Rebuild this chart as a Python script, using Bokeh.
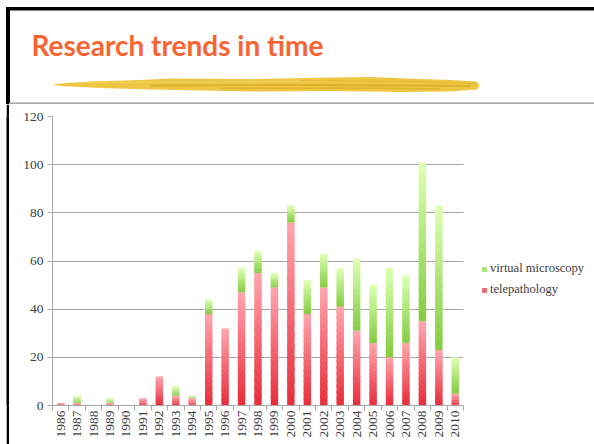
from math import pi
from bokeh.plotting import figure
from bokeh.models import (Range1d, FixedTicker, LinearAxis, Legend, LegendItem,
                          ColumnDataSource, Label, Spacer)
from bokeh.layouts import column, row
from bokeh.embed import file_html
from bokeh.resources import INLINE

# ---------------- data ----------------
years = ["1986", "1987", "1988", "1989", "1990", "1991", "1992", "1993", "1994",
         "1995", "1996", "1997", "1998", "1999", "2000", "2001", "2002", "2003",
         "2004", "2005", "2006", "2007", "2008", "2009", "2010"]
telepathology = [1, 1, 0, 1, 0, 3, 12, 4, 3, 38, 32, 47, 55, 49, 76, 38, 49, 41,
                 31, 26, 20, 26, 35, 23, 5]
virtual_microscopy = [0, 3, 0, 2, 0, 0, 0, 4, 1, 6, 0, 10, 9, 6, 7, 14, 14, 16,
                      30, 24, 37, 28, 66, 60, 15]
y_ticks = [0, 20, 40, 60, 80, 100, 120]
title_text = "Research trends in time"

SERIF = "Liberation Serif"
GRID = "#a8a8a8"
N_BANDS = 16


def lerp_color(c1, c2, t):
    a = [int(c1[i:i + 2], 16) for i in (1, 3, 5)]
    b = [int(c2[i:i + 2], 16) for i in (1, 3, 5)]
    return "#%02x%02x%02x" % tuple(int(round(a[k] + (b[k] - a[k]) * t)) for k in range(3))


def gradient_bands(bottoms, tops, c_bottom, c_top, n=N_BANDS):
    xs, bs, ts, cs = [], [], [], []
    for i, (b, t) in enumerate(zip(bottoms, tops)):
        if t <= b:
            continue
        h = (t - b) / n
        for k in range(n):
            xs.append(i)
            bs.append(b + h * k)
            ts.append(min(t, b + h * (k + 1.35)))
            cs.append(lerp_color(c_bottom, c_top, k / (n - 1)))
    return ColumnDataSource(dict(x=xs, bottom=bs, top=ts, color=cs))


def bare(fig):
    fig.axis.visible = False
    fig.grid.visible = False
    fig.outline_line_color = None


# ---------------- title strip ----------------
top = figure(width=594, height=104, x_range=Range1d(0, 594), y_range=Range1d(104, 0),
             min_border=0, toolbar_location=None, output_backend="svg")
bare(top)

top.quad(left=[6], right=[594], top=[7], bottom=[9.5], color="black")
top.quad(left=[6], right=[9], top=[7], bottom=[104], color="black")
top.quad(left=[9], right=[594], top=[102.4], bottom=[104], color="#aaaaaa")

# brush stroke
bx = [53, 90, 140, 170, 250, 330, 370, 420, 450, 476, 479,
      477, 450, 400, 330, 260, 200, 150, 100, 60, 53]
by = [83.5, 81, 79.5, 78, 78.5, 77, 76.5, 78.5, 79.5, 81, 84.5,
      89, 91, 91.5, 90.5, 91, 90, 89, 87.5, 85.5, 84]
top.patch(bx, by, fill_color="#ecc43a", line_color=None, fill_alpha=0.95)
top.multi_line([[150, 300, 470], [220, 360, 440], [80, 200, 330], [300, 420, 475]],
               [[85, 84.5, 85.5], [88, 87.5, 88.5], [82, 81.5, 81], [80, 81, 83]],
               line_color=["#d6a820", "#d9ab24", "#f5d860", "#deb22c"],
               line_width=[1.8, 1.4, 1.2, 1.0], line_alpha=0.7)

top.add_layout(Label(x=31, y=44, text=title_text, text_font="Lato",
                     text_font_style="bold", text_font_size="28px",
                     text_color="#f86432", text_baseline="alphabetic"))

# ---------------- left border (black bar) ----------------
pad = Spacer(width=6, height=340)
strip = figure(width=3, height=340, x_range=Range1d(0, 1), y_range=Range1d(0, 1),
               min_border=0, toolbar_location=None, output_backend="svg")
bare(strip)
strip.background_fill_color = "black"
strip.border_fill_color = "black"

# ---------------- chart ----------------
n = len(years)
p = figure(width=459, height=340, x_range=Range1d(-0.5, n - 0.5), y_range=Range1d(0, 120),
           x_axis_type=None, toolbar_location=None, output_backend="svg",
           min_border_left=43, min_border_right=5, min_border_top=12, min_border_bottom=39)
p.outline_line_color = None
p.xgrid.visible = False
p.ygrid.grid_line_color = GRID
p.ygrid.grid_line_width = 1.2
p.ygrid.ticker = FixedTicker(ticks=y_ticks)

ya = p.yaxis[0]
ya.ticker = FixedTicker(ticks=y_ticks)
ya.axis_line_color = GRID
ya.major_tick_line_color = GRID
ya.major_tick_out = 5
ya.major_tick_in = 0
ya.minor_tick_line_color = None
ya.major_label_standoff = 4
ya.major_label_text_font = SERIF
ya.major_label_text_font_size = "13.5px"
ya.major_label_text_color = "#404040"

# x axis with ticks at category boundaries (no labels)
xa_ticks = LinearAxis(ticker=FixedTicker(ticks=[i - 0.5 for i in range(n + 1)]),
                      axis_line_color=GRID, major_tick_line_color=GRID,
                      major_tick_out=5, major_tick_in=0, minor_tick_line_color=None,
                      major_label_text_alpha=0, major_label_text_font_size="1px",
                      major_label_standoff=0)
p.add_layout(xa_ticks, "below")
# x axis with year labels at bar centers
xa_labels = LinearAxis(ticker=FixedTicker(ticks=list(range(n))),
                       major_label_overrides={i: y for i, y in enumerate(years)},
                       axis_line_color=None, major_tick_line_color=None,
                       major_tick_out=0, major_tick_in=0, minor_tick_line_color=None,
                       major_label_orientation=pi / 2, major_label_standoff=0,
                       major_label_text_font=SERIF, major_label_text_font_size="13.5px",
                       major_label_text_color="#404040")
p.add_layout(xa_labels, "below")

BAR_W = 0.45
red_bottom, red_top = "#e8303e", "#ffa2aa"
green_bottom, green_top = "#86cc44", "#dcffb0"

totals = [a + b for a, b in zip(telepathology, virtual_microscopy)]
src_r = gradient_bands([0] * n, telepathology, red_bottom, red_top)
src_g = gradient_bands(telepathology, totals, green_bottom, green_top)
p.vbar(x="x", bottom="bottom", top="top", width=BAR_W, fill_color="color",
       line_color=None, source=src_r)
p.vbar(x="x", bottom="bottom", top="top", width=BAR_W, fill_color="color",
       line_color=None, source=src_g)

# ---------------- legend panel ----------------
lf = figure(width=126, height=340, x_range=Range1d(-0.5, n - 0.5), y_range=Range1d(0, 120),
            toolbar_location=None, output_backend="svg",
            min_border_left=0, min_border_right=0, min_border_top=12, min_border_bottom=39)
bare(lf)
lg_g = lf.vbar(x="x", bottom="bottom", top="top", width=BAR_W, fill_color="color",
               line_color=None, source=src_g, visible=False)
lg_r = lf.vbar(x="x", bottom="bottom", top="top", width=BAR_W, fill_color="color",
               line_color=None, source=src_r, visible=False)
mid = N_BANDS // 2 - 2
legend = Legend(items=[LegendItem(label="virtual microscopy", renderers=[lg_g], index=mid),
                       LegendItem(label="telepathology", renderers=[lg_r], index=mid)],
                location=(13, 108), glyph_width=6, glyph_height=6,
                label_standoff=3, label_height=14, spacing=6, padding=0, margin=0,
                border_line_color=None, background_fill_alpha=0,
                label_text_font=SERIF, label_text_font_size="12.5px",
                label_text_color="#404040")
lf.add_layout(legend, "center")

layout = column(top, row(pad, strip, p, lf, spacing=0), spacing=0)

open("out.html", "w").write(file_html(layout, INLINE))
